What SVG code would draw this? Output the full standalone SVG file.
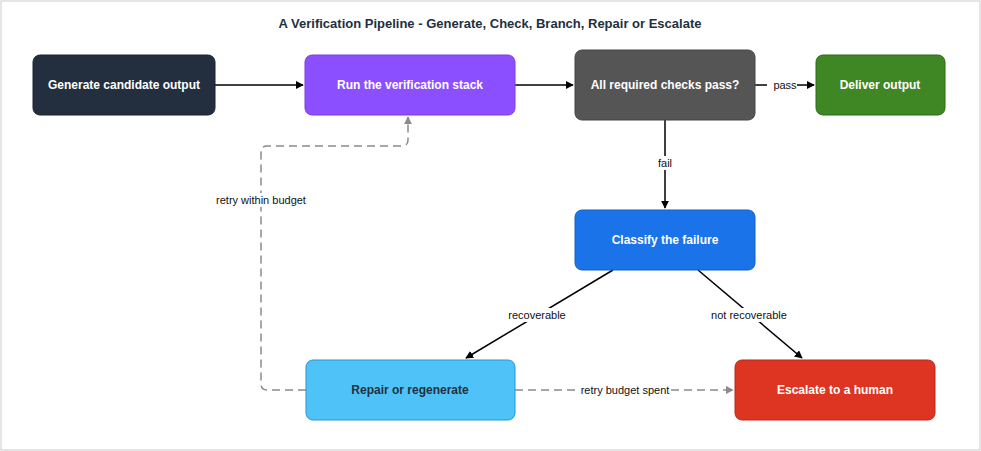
<svg xmlns="http://www.w3.org/2000/svg" width="981" height="451" viewBox="0 0 981 451">
<style>
.t{font-family:"Liberation Sans",Arial,sans-serif;font-size:12px;font-weight:bold;fill:#fff;text-anchor:middle;dominant-baseline:central}
.l{font-family:"Liberation Sans",Arial,sans-serif;font-size:11px;fill:#111;text-anchor:middle;dominant-baseline:central}
.e{stroke:#000;stroke-width:1.5;fill:none}
.d{stroke:#8a8a8a;stroke-width:1.5;fill:none;stroke-dasharray:8 5}
</style>
<defs>
<marker id="a" viewBox="0 0 10 10" refX="9" refY="5" markerWidth="8" markerHeight="8" markerUnits="userSpaceOnUse" orient="auto"><path d="M0,0L10,5L0,10z" fill="#000"/></marker>
<marker id="g" viewBox="0 0 10 10" refX="9" refY="5" markerWidth="8" markerHeight="8" markerUnits="userSpaceOnUse" orient="auto"><path d="M0,0L10,5L0,10z" fill="#8a8a8a"/></marker>
</defs>
<rect x="1" y="1" width="979" height="449" fill="#fff" stroke="#ccc"/>
<text x="490" y="23" class="t" style="fill:#232f3e;font-size:13px">A Verification Pipeline - Generate, Check, Branch, Repair or Escalate</text>
<g id="connectors">
<path class="e" d="M215,85H303" marker-end="url(#a)"/>
<path class="e" d="M515,85H573" marker-end="url(#a)"/>
<path class="e" d="M755,85H814" marker-end="url(#a)"/>
<path class="e" d="M665,120V208" marker-end="url(#a)"/>
<path class="e" d="M613,270L466,358" marker-end="url(#a)"/>
<path class="e" d="M698,270L802,358" marker-end="url(#a)"/>
<path class="d" d="M306,390H267Q261,390 261,384V152Q261,146 267,146H402Q408,146 408,140V117" marker-end="url(#g)"/>
<path class="d" d="M515,390H733" marker-end="url(#g)"/>
<rect x="767" y="78" width="30" height="14" fill="#fff"/><text class="l" x="785" y="85">pass</text>
<rect x="655" y="156" width="20" height="14" fill="#fff"/><text class="l" x="665" y="163">fail</text>
<rect x="505" y="308" width="64" height="14" fill="#fff"/><text class="l" x="537" y="315">recoverable</text>
<rect x="708" y="308" width="80" height="14" fill="#fff"/><text class="l" x="749" y="315">not recoverable</text>
<rect x="212" y="193" width="98" height="14" fill="#fff"/><text class="l" x="261" y="200">retry within budget</text>
<rect x="579" y="383" width="92" height="14" fill="#fff"/><text class="l" x="625" y="390">retry budget spent</text>
</g>
<g id="generate"><rect x="33" y="55" width="182" height="60" rx="7" fill="#232f3e" stroke="#1a2330"/><text class="t" x="124" y="85">Generate candidate output</text></g>
<g id="run"><rect x="305" y="55" width="210" height="60" rx="7" fill="#8c4fff" stroke="#7a3fe0"/><text class="t" x="410" y="85">Run the verification stack</text></g>
<g id="checks"><rect x="575" y="50" width="180" height="70" rx="7" fill="#555" stroke="#444"/><text class="t" x="665" y="85">All required checks pass?</text></g>
<g id="deliver"><rect x="816" y="55" width="129" height="60" rx="7" fill="#3f8624" stroke="#2d6a1a"/><text class="t" x="880" y="85">Deliver output</text></g>
<g id="classify"><rect x="575" y="210" width="180" height="60" rx="7" fill="#1a73e8" stroke="#1560c4"/><text class="t" x="665" y="240">Classify the failure</text></g>
<g id="repair"><rect x="306" y="360" width="209" height="60" rx="7" fill="#4fc3f7" stroke="#2196d8"/><text class="t" x="410" y="390" style="fill:#232f3e">Repair or regenerate</text></g>
<g id="escalate"><rect x="735" y="360" width="200" height="60" rx="7" fill="#dd3522" stroke="#b82a1a"/><text class="t" x="835" y="390">Escalate to a human</text></g>
</svg>
